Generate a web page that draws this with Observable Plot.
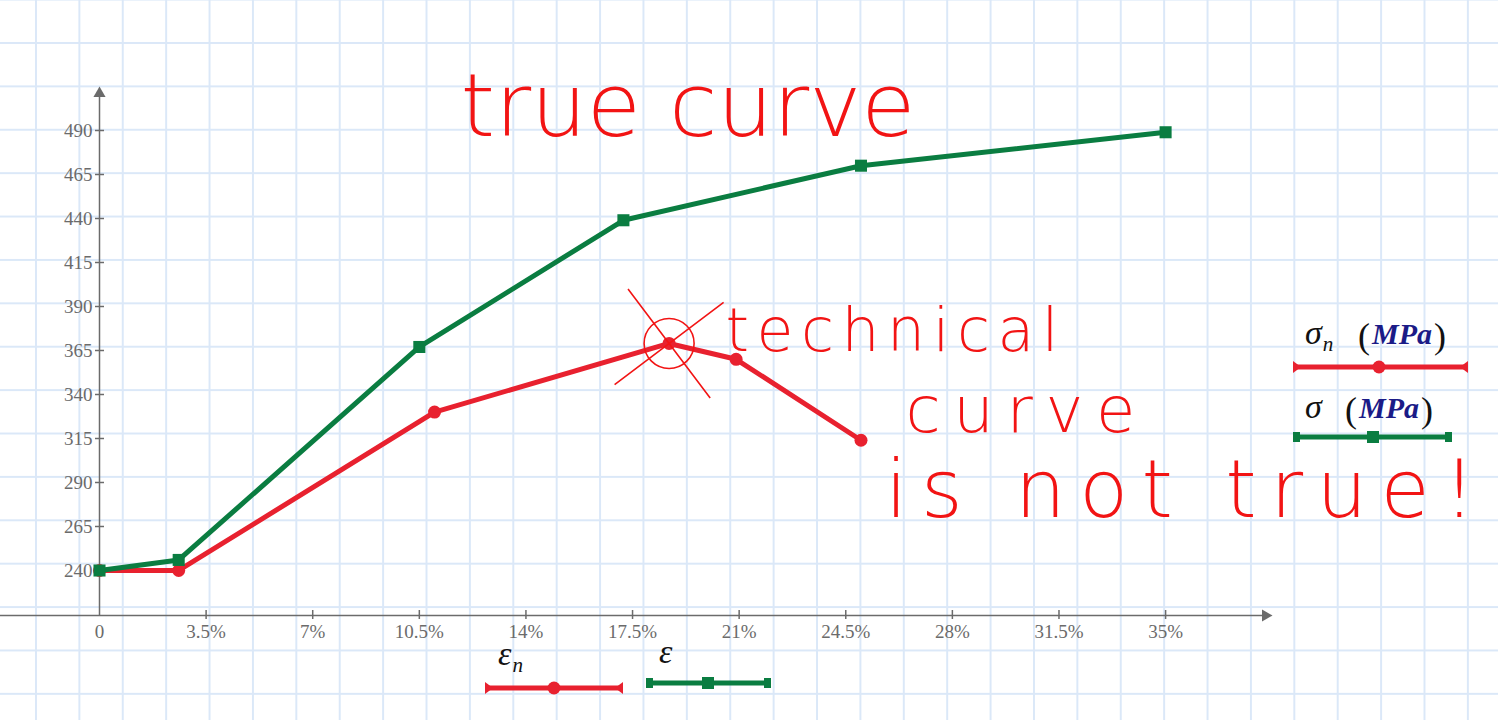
<!DOCTYPE html>
<html><head><meta charset="utf-8">
<script src="https://cdn.jsdelivr.net/npm/d3@7"></script>
<script src="https://cdn.jsdelivr.net/npm/@observablehq/plot@0.6"></script>
<style>
html,body{margin:0;padding:0;background:#fff;}
#wrap{position:relative;width:1498px;height:720px;overflow:hidden;
 background-image: linear-gradient(to right, #dbe8f8 2px, transparent 2px), linear-gradient(to bottom, #dbe8f8 2px, transparent 2px);
 background-size: 43.4px 43.4px; background-position: 35px 42px;}
#wrap svg{position:absolute;left:0;top:0;}
</style></head><body><div id="wrap"></div>
<script>
// ---- data ----
const strainTech = [0, 2.6, 11.0, 18.7, 20.9, 25.0];       // εn, %
const stressTech = [240, 240, 330, 369, 360, 314];         // σn, MPa
const strainTrue = [0, 2.6, 10.5, 17.2, 25.0, 35.0];       // ε, %
const stressTrue = [240, 246, 367, 439, 470, 489];         // σ, MPa
const xTicks = [0, 3.5, 7, 10.5, 14, 17.5, 21, 24.5, 28, 31.5, 35];
const yTicks = [240, 265, 290, 315, 340, 365, 390, 415, 440, 465, 490];
const notes = ["true curve", "technical", "curve", "is not true!"];
const noteX = [11.85, 20.55, 26.46, 25.8];
const noteY = [503.1, 375.8, 330.1, 284.7];
const peakIndex = 3;

// ---- styles ----
const RED = "#e8212f", GREEN = "#0a7d41", INK = "#f21414", AXIS = "#6b6b6b";
const xMin = 0, xMax = 38.28, yMin = 214.43, yMax = 511.02;
const noteStyle = [{fs: 88, w: 455}, {fs: 60, w: 333}, {fs: 64, w: 230}, {fs: 80, w: 590}];

const tech = strainTech.map((x, i) => ({x, y: stressTech[i]}));
const truth = strainTrue.map((x, i) => ({x, y: stressTrue[i]}));
const noteData = notes.map((t, i) => ({t, x: noteX[i], y: noteY[i], fs: noteStyle[i].fs}));
const peak = [tech[peakIndex]];

const chart = Plot.plot({
  width: 1498, height: 720,
  marginLeft: 99, marginRight: 233, marginTop: 93, marginBottom: 105,
  x: {domain: [xMin, xMax]},
  y: {domain: [yMin, yMax]},
  style: {background: "transparent", overflow: "visible"},
  marks: [
    Plot.ruleY([yMin], {stroke: AXIS, strokeWidth: 1.5, insetLeft: -99}),
    Plot.ruleX([xMin], {stroke: AXIS, strokeWidth: 1.5}),
    Plot.ruleX(xTicks.filter(v => v > 0), {x: d => d, y1: yMin, y2: yMin, insetTop: -5, insetBottom: -4, stroke: AXIS, strokeWidth: 1.5}),
    Plot.ruleY(yTicks, {y: d => d, x1: xMin, x2: xMin, insetLeft: -4, insetRight: -5, stroke: AXIS, strokeWidth: 1.5}),
    Plot.dot([{x: xMax, y: yMin}], {x: "x", y: "y", symbol: "triangle", rotate: 90, r: 4.5, fill: AXIS}),
    Plot.dot([{x: xMin, y: yMax}], {x: "x", y: "y", symbol: "triangle", r: 4.5, fill: AXIS}),
    Plot.axisX(xTicks, {anchor: "bottom", tickSize: 0, tickPadding: 9, fontSize: 19, fontFamily: "Liberation Serif, serif", fill: AXIS, label: null,
      tickFormat: d => d === 0 ? "0" : `${d}%`}),
    Plot.axisY(yTicks, {anchor: "left", tickSize: 0, tickPadding: 7, fontSize: 19, fontFamily: "Liberation Serif, serif", fill: AXIS, label: null}),
    Plot.line(tech, {x: "x", y: "y", stroke: RED, strokeWidth: 5}),
    Plot.dot(tech, {x: "x", y: "y", r: 6.5, fill: RED}),
    Plot.line(truth, {x: "x", y: "y", stroke: GREEN, strokeWidth: 5}),
    Plot.dot(truth, {x: "x", y: "y", symbol: "square", r: 6.8, fill: GREEN}),
    Plot.dot(peak, {x: "x", y: "y", symbol: "times", r: 44, stroke: INK, strokeWidth: 1.6, rotate: 8}),
    Plot.dot(peak, {x: "x", y: "y", r: 25, stroke: INK, strokeWidth: 1.6, fill: "none"}),
    Plot.text(noteData, {x: "x", y: "y", text: "t", fontSize: "fs", textAnchor: "start", lineAnchor: "middle",
      fill: INK, fontFamily: "DejaVu Sans, sans-serif", fontWeight: 200})
  ]
});
document.getElementById("wrap").appendChild(chart);
d3.select(chart).selectAll('g[aria-label="text"] text').each(function(d, i) {
  d3.select(this).attr("textLength", noteStyle[i].w).attr("lengthAdjust", "spacing");
});

// ---- legends ----
const legendItems = [
  {sym: "σ", sub: "n", unit: "MPa", color: RED, marker: "circle"},
  {sym: "σ", sub: "", unit: "MPa", color: GREEN, marker: "square"},
  {sym: "ε", sub: "n", unit: "", color: RED, marker: "circle"},
  {sym: "ε", sub: "", unit: "", color: GREEN, marker: "square"}
];
const legendLayout = [
  {tx: 1305, ty: 344, ux: 1358, x1: 1293, x2: 1468, ly: 367, mx: 1379, fs: 34},
  {tx: 1305, ty: 418, ux: 1345, x1: 1293, x2: 1452, ly: 437, mx: 1373, fs: 34},
  {tx: 498, ty: 665, ux: 0, x1: 485, x2: 623, ly: 688, mx: 554, fs: 34},
  {tx: 659, ty: 663, ux: 0, x1: 646, x2: 771, ly: 683, mx: 708, fs: 34}
];
const svg = d3.select("#wrap").append("svg").attr("width", 1498).attr("height", 720);
legendItems.forEach((it, i) => {
  const L = legendLayout[i];
  const t = svg.append("text").attr("x", L.tx).attr("y", L.ty)
    .attr("font-family", "Liberation Serif, serif").attr("font-size", L.fs).attr("fill", "#111");
  t.append("tspan").attr("font-style", "italic").text(it.sym);
  if (it.sub) t.append("tspan").attr("font-style", "italic").attr("font-size", L.fs * 0.62).attr("dy", 7).attr("dx", 1).text(it.sub);
  if (it.unit) {
    const u = svg.append("text").attr("x", L.ux).attr("y", L.ty + 4)
      .attr("font-family", "Liberation Serif, serif").attr("font-size", 30).attr("fill", "#111");
    u.append("tspan").attr("font-size", 36).text("(");
    u.append("tspan").attr("dx", 2).attr("dy", -4).attr("font-style", "italic").attr("font-weight", "bold").attr("fill", "#1b1b87").text(it.unit);
    u.append("tspan").attr("dx", 2).attr("dy", 4).attr("font-size", 36).text(")");
  }
  svg.append("line").attr("x1", L.x1).attr("x2", L.x2).attr("y1", L.ly).attr("y2", L.ly)
    .attr("stroke", it.color).attr("stroke-width", 5);
  if (it.marker === "circle") {
    svg.append("circle").attr("cx", L.mx).attr("cy", L.ly).attr("r", 6.5).attr("fill", it.color);
    svg.append("path").attr("d", `M${L.x1},${L.ly - 6}L${L.x1 + 8},${L.ly}L${L.x1},${L.ly + 6}Z`).attr("fill", it.color);
    svg.append("path").attr("d", `M${L.x2},${L.ly - 6}L${L.x2 - 8},${L.ly}L${L.x2},${L.ly + 6}Z`).attr("fill", it.color);
  } else {
    svg.append("rect").attr("x", L.mx - 6).attr("y", L.ly - 6).attr("width", 12).attr("height", 12).attr("fill", it.color);
    svg.append("rect").attr("x", L.x1).attr("y", L.ly - 5).attr("width", 7).attr("height", 10).attr("fill", it.color);
    svg.append("rect").attr("x", L.x2 - 7).attr("y", L.ly - 5).attr("width", 7).attr("height", 10).attr("fill", it.color);
  }
});
</script></body></html>
